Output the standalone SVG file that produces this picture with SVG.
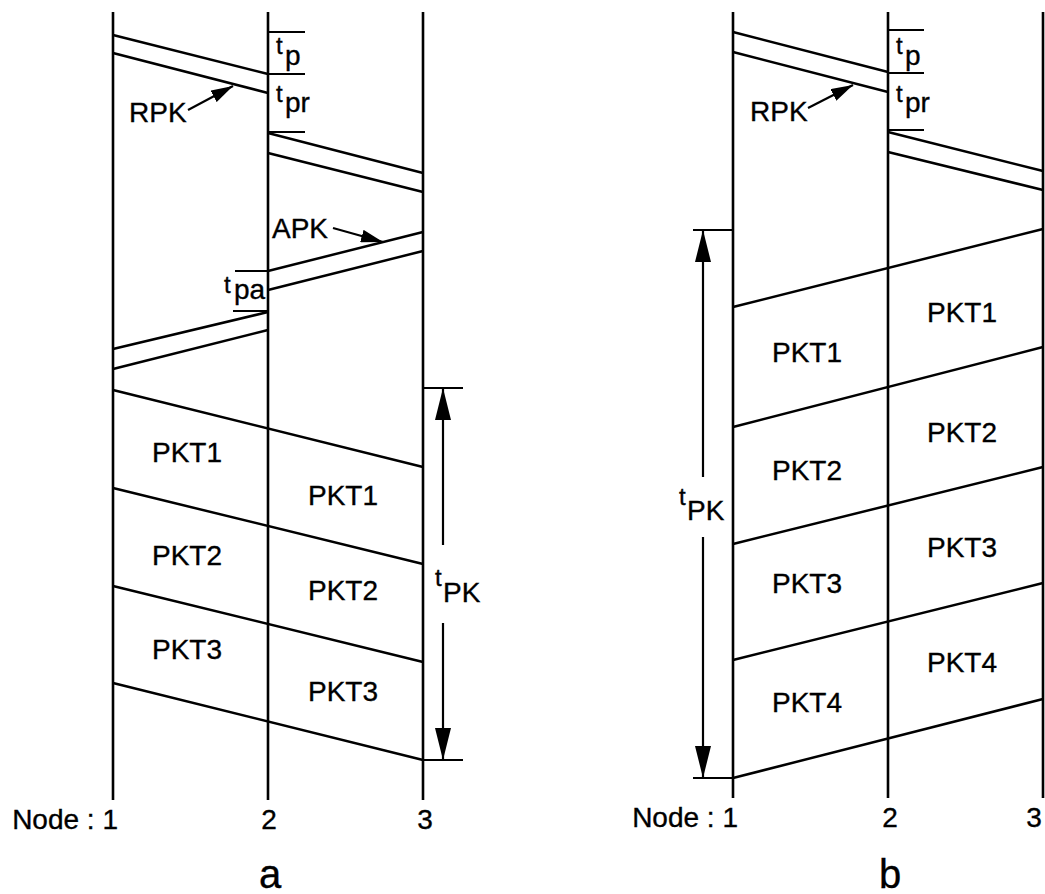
<svg xmlns="http://www.w3.org/2000/svg" width="1045" height="894" viewBox="0 0 1045 894">
<style>
  .axis{stroke:#000;stroke-width:2.6;fill:none}
  .ln{stroke:#000;stroke-width:2.5;fill:none}
  .tick{stroke:#000;stroke-width:2.2;fill:none}
  text{font-family:"Liberation Sans",Arial,Helvetica,sans-serif;fill:#000;stroke:#000;stroke-width:0.35}
  .lbl{font-size:28px}
  .t{font-size:24px}
  .cap{font-size:40px;text-anchor:middle}
  .num{font-size:28px;text-anchor:middle}
</style>
<defs>
  <marker id="bigHead" markerUnits="userSpaceOnUse" viewBox="0 0 32 16" markerWidth="32" markerHeight="16" refX="32" refY="8" orient="auto">
    <path d="M0,0 L32,8 L0,16 z" fill="#000"/>
  </marker>
  <marker id="smallHead" markerUnits="userSpaceOnUse" viewBox="0 0 22 13" markerWidth="22" markerHeight="13" refX="22" refY="6.5" orient="auto">
    <path d="M0,0 L22,6.5 L0,13 z" fill="#000"/>
  </marker>
</defs>
<rect width="1045" height="894" fill="#fff"/>

<!-- ===== Panel a ===== -->
<g id="node-a1">
  <line class="axis" x1="113" y1="12" x2="113" y2="800"/>
  <text class="lbl" x="118" y="829" text-anchor="end">Node : 1</text>
</g>
<g id="node-a2">
  <line class="axis" x1="268" y1="12" x2="268" y2="800"/>
  <text class="num" x="269" y="829">2</text>
</g>
<g id="node-a3">
  <line class="axis" x1="423" y1="12" x2="423" y2="800"/>
  <text class="num" x="425" y="829">3</text>
</g>

<g id="connectors-a">
  <line class="ln" x1="113" y1="35" x2="268" y2="74"/>
  <line class="ln" x1="113" y1="53" x2="268" y2="93"/>
  <line class="ln" x1="268" y1="133" x2="423" y2="173"/>
  <line class="ln" x1="268" y1="153" x2="423" y2="192"/>
  <line class="ln" x1="423" y1="232" x2="268" y2="271"/>
  <line class="ln" x1="423" y1="251" x2="268" y2="290"/>
  <line class="ln" x1="268" y1="312" x2="113" y2="349"/>
  <line class="ln" x1="268" y1="330" x2="113" y2="369"/>
  <line class="ln" x1="113" y1="390" x2="423" y2="467"/>
  <line class="ln" x1="113" y1="488" x2="423" y2="564"/>
  <line class="ln" x1="113" y1="586" x2="423" y2="662"/>
  <line class="ln" x1="113" y1="683" x2="423" y2="760"/>
  <line class="tick" x1="268" y1="32" x2="305" y2="32"/>
  <line class="tick" x1="268" y1="74" x2="305" y2="74"/>
  <line class="tick" x1="268" y1="132" x2="305" y2="132"/>
  <line class="tick" x1="235" y1="271" x2="268" y2="271"/>
  <line class="tick" x1="233" y1="311" x2="268" y2="311"/>
  <line class="tick" x1="423" y1="388" x2="463" y2="388"/>
  <line class="tick" x1="423" y1="760" x2="463" y2="760"/>
  <line class="tick" x1="188" y1="110" x2="233" y2="86" marker-end="url(#smallHead)"/>
  <line class="tick" x1="333" y1="228" x2="383" y2="242" marker-end="url(#smallHead)"/>
  <line class="tick" x1="443" y1="545" x2="443" y2="388" marker-end="url(#bigHead)"/>
  <line class="tick" x1="443" y1="623" x2="443" y2="760" marker-end="url(#bigHead)"/>
</g>

<g id="labels-a">
  <text class="lbl" x="129" y="122">RPK</text>
  <text class="lbl" x="272" y="238">APK</text>
  <text class="t" x="276" y="54">t</text><text class="lbl" x="285" y="65">p</text>
  <text class="t" x="276" y="102">t</text><text class="lbl" x="285" y="112">pr</text>
  <text class="t" x="224" y="293">t</text><text class="lbl" x="234" y="299">pa</text>
  <text class="t" x="435" y="586">t</text><text class="lbl" x="443" y="602">PK</text>
  <text class="lbl" x="152" y="462">PKT1</text>
  <text class="lbl" x="308" y="505">PKT1</text>
  <text class="lbl" x="152" y="565">PKT2</text>
  <text class="lbl" x="308" y="600">PKT2</text>
  <text class="lbl" x="152" y="659">PKT3</text>
  <text class="lbl" x="308" y="701">PKT3</text>
  <text class="cap" x="270" y="888">a</text>
</g>

<!-- ===== Panel b ===== -->
<g id="node-b1">
  <line class="axis" x1="733" y1="12" x2="733" y2="798"/>
  <text class="lbl" x="738" y="827" text-anchor="end">Node : 1</text>
</g>
<g id="node-b2">
  <line class="axis" x1="888" y1="12" x2="888" y2="798"/>
  <text class="num" x="890" y="827">2</text>
</g>
<g id="node-b3">
  <line class="axis" x1="1043" y1="12" x2="1043" y2="798"/>
  <text class="num" x="1034" y="827">3</text>
</g>

<g id="connectors-b">
  <line class="ln" x1="733" y1="32" x2="888" y2="72"/>
  <line class="ln" x1="733" y1="52" x2="888" y2="92"/>
  <line class="ln" x1="888" y1="132" x2="1043" y2="171"/>
  <line class="ln" x1="888" y1="152" x2="1043" y2="190"/>
  <line class="ln" x1="733" y1="307" x2="1043" y2="229"/>
  <line class="ln" x1="733" y1="427" x2="1043" y2="347"/>
  <line class="ln" x1="733" y1="544" x2="1043" y2="467"/>
  <line class="ln" x1="733" y1="660" x2="1043" y2="583"/>
  <line class="ln" x1="733" y1="778" x2="1043" y2="699"/>
  <line class="tick" x1="888" y1="30" x2="924" y2="30"/>
  <line class="tick" x1="888" y1="73" x2="924" y2="73"/>
  <line class="tick" x1="888" y1="130" x2="924" y2="130"/>
  <line class="tick" x1="693" y1="230" x2="733" y2="230"/>
  <line class="tick" x1="693" y1="778" x2="733" y2="778"/>
  <line class="tick" x1="808" y1="108" x2="853" y2="85" marker-end="url(#smallHead)"/>
  <line class="tick" x1="703" y1="477" x2="703" y2="230" marker-end="url(#bigHead)"/>
  <line class="tick" x1="703" y1="537" x2="703" y2="778" marker-end="url(#bigHead)"/>
</g>

<g id="labels-b">
  <text class="lbl" x="750" y="121">RPK</text>
  <text class="t" x="896" y="54">t</text><text class="lbl" x="905" y="65">p</text>
  <text class="t" x="896" y="102">t</text><text class="lbl" x="905" y="112">pr</text>
  <text class="t" x="679" y="505">t</text><text class="lbl" x="687" y="520">PK</text>
  <text class="lbl" x="927" y="322">PKT1</text>
  <text class="lbl" x="772" y="362">PKT1</text>
  <text class="lbl" x="927" y="442">PKT2</text>
  <text class="lbl" x="772" y="480">PKT2</text>
  <text class="lbl" x="927" y="557">PKT3</text>
  <text class="lbl" x="772" y="593">PKT3</text>
  <text class="lbl" x="927" y="672">PKT4</text>
  <text class="lbl" x="772" y="712">PKT4</text>
  <text class="cap" x="890" y="888">b</text>
</g>
</svg>
